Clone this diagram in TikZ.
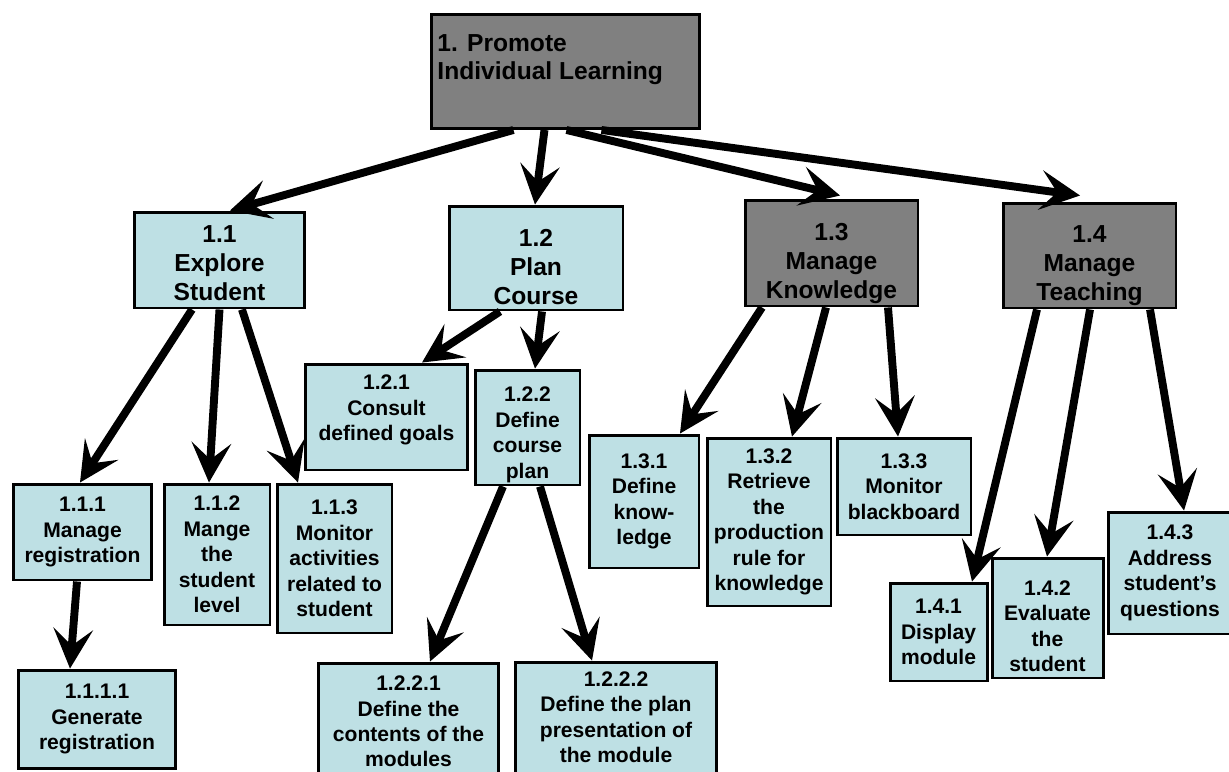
\documentclass[tikz,border=0pt]{standalone}
\usepackage{fontspec}
\setmainfont{Liberation Sans}
\usetikzlibrary{arrows.meta,calc}
\definecolor{boxblue}{RGB}{190,224,228}
\definecolor{boxgray}{RGB}{128,128,128}
\newcommand\tdown[1]{\rule{0pt}{#1}}
\newcommand\tup[1]{\rule[-#1]{0pt}{0pt}}

\begin{document}
\begin{tikzpicture}[x=0.02cm,y=-0.02cm,
  box/.style={draw=black,line width=1.7pt,fill=boxblue,align=center,inner sep=0pt,
    font=\fontsize{12}{14.5}\selectfont\bfseries},
  topbox/.style={box,font=\fontsize{14}{16.5}\selectfont\bfseries},
  graybox/.style={topbox,fill=boxgray},
  arr/.style={line width=4.5pt,
    -{Stealth[length=0.8cm,width=0.8cm,inset=0.34cm,line width=0.8pt]}}]
\useasboundingbox (0,0) rectangle (1229,771);

\node[box,fill=boxgray,anchor=north west,inner xsep=0.12cm,inner ysep=0pt,
  font=\fontsize{14}{16}\selectfont\bfseries] (root) at (430,13)
  {\parbox[t][2.28cm][t]{5.12cm}{\vspace*{0.4cm}1. Promote\\Individual Learning}};

\node[topbox,minimum width=3.42cm,minimum height=1.92cm] (n11) at (219.5,260) {\tdown{0.47cm}1.1\\Explore\\Student};
\node[topbox,minimum width=3.48cm,minimum height=2.08cm] (n12) at (536,258) {\tdown{0.71cm}1.2\\Plan\\Course};
\node[graybox,minimum width=3.46cm,minimum height=2.12cm] (n13) at (831.5,253) {\tdown{0.75cm}1.3\\Manage\\Knowledge};
\node[graybox,minimum width=3.46cm,minimum height=2.10cm] (n14) at (1089.5,255.5) {\tdown{0.75cm}1.4\\Manage\\Teaching};

\node[box,minimum width=2.78cm,minimum height=1.92cm] (n111) at (82.5,532) {1.1.1\\Manage\\registration};
\node[box,minimum width=2.12cm,minimum height=2.82cm] (n112) at (217,554.5) {1.1.2\\Mange\\the\\student\\level};
\node[box,minimum width=2.30cm,minimum height=2.98cm] (n113) at (334.5,558.5) {1.1.3\\Monitor\\activities\\related to\\student};
\node[box,minimum width=3.16cm,minimum height=1.96cm] (n1111) at (97,719) {1.1.1.1\\Generate\\registration};

\node[box,minimum width=3.26cm,minimum height=2.12cm] (n121) at (386.5,417) {1.2.1\\Consult\\defined goals\tup{0.37cm}};
\node[box,minimum width=2.10cm,minimum height=2.30cm] (n122) at (527.5,427.5) {\tdown{0.58cm}1.2.2\\Define\\course\\plan};
\node[box,minimum width=3.62cm,minimum height=2.34cm] (n1221) at (408.5,721.5) {1.2.2.1\\Define the\\contents of the\\modules};
\node[box,minimum width=4.04cm,minimum height=2.36cm] (n1222) at (616,721) {1.2.2.2\\Define the plan\\presentation of\\the module\tup{0.16cm}};

\node[box,minimum width=2.20cm,minimum height=2.66cm] (n131) at (644,501.5) {1.3.1\\Define\\know-\\ledge};
\node[box,minimum width=2.48cm,minimum height=3.36cm] (n132) at (769,522) {1.3.2\\Retrieve\\the\\production\\rule for\\knowledge};
\node[box,minimum width=2.68cm,minimum height=1.94cm] (n133) at (904,486.5) {1.3.3\\Monitor\\blackboard};

\node[box,minimum width=1.94cm,minimum height=1.96cm] (n141) at (938.5,632) {1.4.1\\Display\\module};
\node[box,minimum width=2.22cm,minimum height=2.40cm] (n142) at (1047.5,618) {\tdown{0.62cm}1.4.2\\Evaluate\\the\\student};
\node[box,minimum width=2.48cm,minimum height=2.44cm] (n143) at (1170,573) {1.4.3\\Address\\student’s\\questions};

\draw[arr] ($(root.south)+(-52,0)$) -- ($(n11.north)+(10.5,0)$);
\draw[arr] ($(root.south)+(-21,0)$) -- ($(n12.north)+(-1,0)$);
\draw[arr] ($(root.south)+(1,0)$) -- ($(n13.north)+(8.5,-3)$);
\draw[arr] ($(root.south)+(36,0)$) -- ($(n14.north)+(-9.5,-6)$);

\draw[arr] ($(n11.south)+(-27.5,0)$) -- ($(n111.north)+(-2.5,0)$);
\draw[arr] ($(n11.south)+(0,0)$) -- ($(n112.north)+(-8,0)$);
\draw[arr] ($(n11.south)+(22.5,0)$) -- ($(n113.north)+(-36.5,0)$);
\draw[arr] ($(n111.south)+(-5.5,0)$) -- ($(n1111.north)+(-27,0)$);

\draw[arr] ($(n12.south)+(-36,0)$) -- ($(n121.north)+(35.5,0)$);
\draw[arr] ($(n12.south)+(6,0)$) -- ($(n122.north)+(7.5,0)$);
\draw[arr] ($(n122.south)+(-24.5,0)$) -- ($(n1221.north)+(21.5,0)$);
\draw[arr] ($(n122.south)+(12.5,0)$) -- ($(n1222.north)+(-24,0)$);

\draw[arr] ($(n13.south)+(-69.5,0)$) -- ($(n131.north)+(36,0)$);
\draw[arr] ($(n13.south)+(-5.5,0)$) -- ($(n132.north)+(23,0)$);
\draw[arr] ($(n13.south)+(56.5,0)$) -- ($(n133.north)+(-6,0)$);

\draw[arr] ($(n14.south)+(-52.5,0)$) -- ($(n141.north)+(33.5,0)$);
\draw[arr] ($(n14.south)+(0.5,0)$) -- ($(n142.north)+(-0.5,0)$);
\draw[arr] ($(n14.south)+(60.5,0)$) -- ($(n143.north)+(14,0)$);
\end{tikzpicture}
\end{document}
